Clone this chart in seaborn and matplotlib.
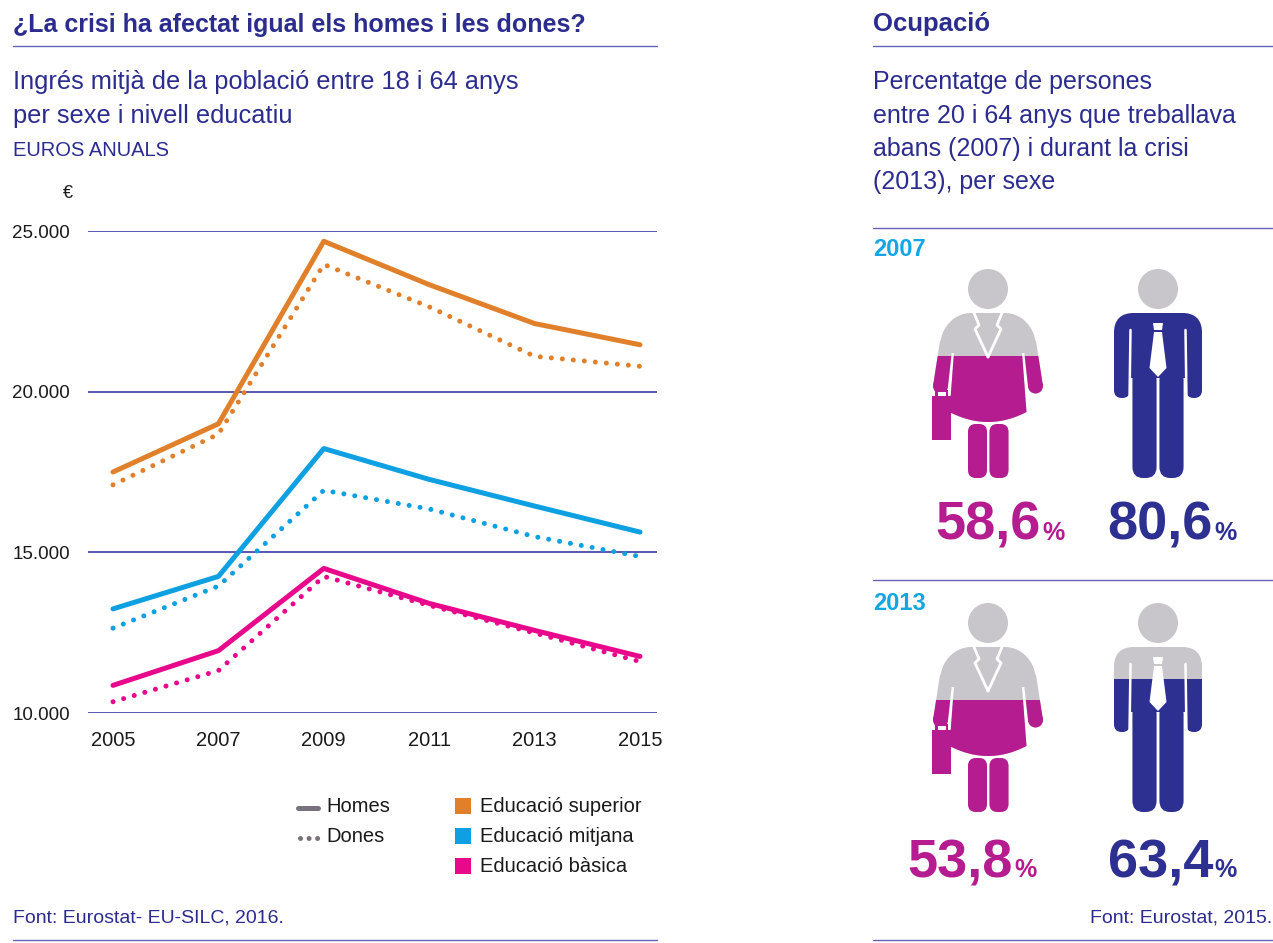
import numpy as np
import pandas as pd
import matplotlib
matplotlib.use("Agg")
import matplotlib.pyplot as plt
from matplotlib.lines import Line2D
from matplotlib.patches import Circle, FancyBboxPatch, Polygon, Rectangle
import seaborn as sns

# Dades del gràfic d'ingressos (euros anuals)
anys = [2005, 2007, 2009, 2011, 2013, 2015]
nivells = ["Educació superior", "Educació mitjana", "Educació bàsica"]
sexes = ["Homes", "Dones"]

superior_homes = [17500, 19000, 24680, 23330, 22120, 21460]
superior_dones = [17100, 18680, 23960, 22640, 21100, 20790]
mitjana_homes = [13240, 14250, 18230, 17270, 16440, 15630]
mitjana_dones = [12640, 13950, 16930, 16350, 15490, 14870]
basica_homes = [10860, 11940, 14500, 13410, 12570, 11760]
basica_dones = [10350, 11320, 14250, 13350, 12490, 11600]

y_ticks = [10000, 15000, 20000, 25000]

# Dades d'ocupació (% persones 20-64 anys que treballaven)
ocupacio_anys = ["2007", "2013"]
ocupacio_dones = [58.6, 53.8]
ocupacio_homes = [80.6, 63.4]

font_esq = "Font: Eurostat- EU-SILC, 2016."
font_dre = "Font: Eurostat, 2015."

# Colors
BLAU_TEXT = "#2b2c8e"
LINIA_GRID = "#4b49a8"
COLORS = ["#e0802b", "#0ea0e0", "#e8088c"]
GRIS_LLEGENDA = "#77727a"
GRIS_ICONA = "#c8c6cb"
MAGENTA = "#b51c8f"
BLAU_HOME = "#2d2f91"
CIAN = "#13a6e2"

W, H = 1273, 943

sns.set_theme(style="white")
plt.rcParams["font.family"] = ["Liberation Sans", "DejaVu Sans"]

series = {
    ("Educació superior", "Homes"): superior_homes,
    ("Educació superior", "Dones"): superior_dones,
    ("Educació mitjana", "Homes"): mitjana_homes,
    ("Educació mitjana", "Dones"): mitjana_dones,
    ("Educació bàsica", "Homes"): basica_homes,
    ("Educació bàsica", "Dones"): basica_dones,
}
files = []
for (nivell, sexe), valors in series.items():
    for a, v in zip(anys, valors):
        files.append({"any": a, "ingres": v, "nivell": nivell, "sexe": sexe})
df = pd.DataFrame(files)

fig = plt.figure(figsize=(W / 100, H / 100), dpi=100)
fig.patch.set_facecolor("white")

# capa de maquetació en píxels (y cap avall)
lay = fig.add_axes([0, 0, 1, 1])
lay.set_xlim(0, W)
lay.set_ylim(H, 0)
lay.axis("off")

# --- gràfic de línies ---
ax = fig.add_axes([88 / W, 1 - 713 / H, 569 / W, 482 / H])
ax.set_facecolor("none")
sns.lineplot(data=df, x="any", y="ingres", hue="nivell", style="sexe",
             hue_order=nivells, style_order=sexes, palette=COLORS,
             dashes={"Homes": "", "Dones": (0.01, 2.2)},
             linewidth=3.6, legend=False, ax=ax)
for ln in ax.get_lines():
    ln.set_dash_capstyle("round")
    ln.set_clip_on(False)

k = 10 / (640 - 113)
ax.set_xlim(2005 - 25 * k, 2015 + 17 * k)
ax.set_ylim(10000, 25000)
ax.set_xticks(anys)
ax.set_xticklabels([str(a) for a in anys])
ax.set_yticks(y_ticks)
ax.set_yticklabels([f"{v:,}".replace(",", ".") for v in y_ticks])
ax.set_xlabel("")
ax.set_ylabel("")
ax.grid(axis="y", color=LINIA_GRID, linewidth=1.3)
ax.grid(axis="x", visible=False)
ax.set_axisbelow(True)
for s in ax.spines.values():
    s.set_visible(False)
ax.tick_params(axis="y", length=0, pad=13, labelsize=13.5, labelcolor="#1a1a1a")
ax.tick_params(axis="x", length=0, pad=13, labelsize=14.5, labelcolor="#1a1a1a")

# --- textos panell esquerre ---
lay.text(13, 25, "¿La crisi ha afectat igual els homes i les dones?", fontsize=18,
         fontweight="bold", color=BLAU_TEXT, va="center")
lay.text(13, 82, "Ingrés mitjà de la població entre 18 i 64 anys", fontsize=18.3,
         color=BLAU_TEXT, va="center")
lay.text(13, 116, "per sexe i nivell educatiu", fontsize=18.3, color=BLAU_TEXT, va="center")
lay.text(13, 151, "EUROS ANUALS", fontsize=14.5, color=BLAU_TEXT, va="center")
lay.text(68, 194, "€", fontsize=13, color="#1a1a1a", va="center", ha="center")
lay.text(13, 918, font_esq, fontsize=14, color=BLAU_TEXT, va="center")

for y, x0, x1 in [(46, 13, 657), (940, 13, 657), (46, 873, 1273), (228, 873, 1273),
                  (580, 873, 1273), (940, 873, 1273)]:
    lay.plot([x0, x1], [y, y], color="#6462b8", lw=1.0)

# llegenda
lay.add_line(Line2D([298, 318], [808, 808], color=GRIS_LLEGENDA, lw=3.6,
                    solid_capstyle="round"))
lay.add_line(Line2D([300, 321], [838, 838], color=GRIS_LLEGENDA, lw=3.6,
                    dashes=(0.01, 1.7), dash_capstyle="round"))
for i, s in enumerate(sexes):
    lay.text(326, 807 + 30 * i, s, fontsize=14.5, color="#1a1a1a", va="center")
for i, (nom, col) in enumerate(zip(nivells, COLORS)):
    yc = 806 + 30 * i
    lay.add_patch(Rectangle((455, yc - 8), 16, 16, facecolor=col, edgecolor="none"))
    lay.text(480, yc, nom, fontsize=14.5, color="#1a1a1a", va="center")

# --- panell dret ---
lay.text(873, 24, "Ocupació", fontsize=18.5, fontweight="bold", color=BLAU_TEXT, va="center")
sub = ["Percentatge de persones", "entre 20 i 64 anys que treballava",
       "abans (2007) i durant la crisi", "(2013), per sexe"]
for i, t in enumerate(sub):
    lay.text(873, 82 + 33.5 * i, t, fontsize=18, color=BLAU_TEXT, va="center")
lay.text(1272, 918, font_dre, fontsize=14, color=BLAU_TEXT, va="center", ha="right")

ALT = 209  # alçada de la icona (cap a peus)


def parts_dona(cx, top):
    p = [Circle((cx, top + 20), 20)]
    # espatlles en forma de cúpula
    t = np.linspace(0, np.pi / 2, 20)
    dreta = [(cx + 17 + 31 * np.sin(a), top + 44 + 34 * (1 - np.cos(a))) for a in t]
    esq = [(cx - 17 - 31 * np.sin(a), top + 44 + 34 * (1 - np.cos(a))) for a in t[::-1]]
    p.append(Polygon(esq + dreta + [(cx + 48, top + 84), (cx - 48, top + 84)], closed=True))
    # braços lleugerament oberts
    for s in (-1, 1):
        p.append(Polygon([(cx + s * 48, top + 72), (cx + s * 35, top + 72),
                          (cx + s * 40, top + 117), (cx + s * 55, top + 117)], closed=True))
        p.append(Circle((cx + s * 47.5, top + 117), 7.5))
    # vestit
    xs = np.linspace(38.5, -38.5, 25)
    hem = [(cx + x, top + 143 + 10 * (1 - (x / 38.5) ** 2)) for x in xs]
    p.append(Polygon([(cx - 33, top + 70), (cx + 33, top + 70)] + hem, closed=True))
    # cames
    p.append(FancyBboxPatch((cx - 20, top + 155), 19, 54,
                            boxstyle="round,pad=0,rounding_size=8"))
    p.append(FancyBboxPatch((cx + 1.5, top + 155), 19, 54,
                            boxstyle="round,pad=0,rounding_size=8"))
    # cartera
    p.append(Rectangle((cx - 53, top + 121), 13, 7))
    p.append(Rectangle((cx - 56, top + 127), 19, 44))
    return p


def detalls_dona(ax, cx, top):
    for s in (-1, 1):
        ax.add_line(Line2D([cx + s * 14, cx + s * 9, cx + s * 13, cx],
                           [top + 44, top + 56, top + 60, top + 88],
                           color="white", lw=2))
    ax.add_patch(Rectangle((cx - 50.5, top + 123), 8, 4, facecolor="white",
                           edgecolor="none"))


def parts_home(cx, top):
    p = [Circle((cx, top + 20), 20)]
    p.append(FancyBboxPatch((cx - 44, top + 44), 88, 56,
                            boxstyle="round,pad=0,rounding_size=20"))
    p.append(FancyBboxPatch((cx - 44, top + 60), 16, 69,
                            boxstyle="round,pad=0,rounding_size=8"))
    p.append(FancyBboxPatch((cx + 28, top + 60), 16, 69,
                            boxstyle="round,pad=0,rounding_size=8"))
    p.append(Rectangle((cx - 27, top + 44), 54, 65))
    p.append(FancyBboxPatch((cx - 25.5, top + 100), 24, 109,
                            boxstyle="round,pad=0,rounding_size=11"))
    p.append(FancyBboxPatch((cx + 1.5, top + 100), 24, 109,
                            boxstyle="round,pad=0,rounding_size=11"))
    return p


def detalls_home(ax, cx, top):
    for s in (-1, 1):
        ax.add_line(Line2D([cx + s * 27.5, cx + s * 28.5], [top + 61, top + 131],
                           color="white", lw=1.8))
    ax.add_patch(Polygon([(cx - 5, top + 54), (cx + 5, top + 54),
                          (cx + 4, top + 61), (cx - 4, top + 61)],
                         facecolor="white", edgecolor="none"))
    ax.add_patch(Polygon([(cx - 4, top + 63), (cx + 4, top + 63), (cx + 8.5, top + 99),
                          (cx, top + 108), (cx - 8.5, top + 99)],
                         facecolor="white", edgecolor="none"))


def figura(ax, parts_fn, detalls_fn, cx, top, pct, color):
    nivell = top + ALT * (1 - pct / 100)
    for p in parts_fn(cx, top):
        p.set_facecolor(GRIS_ICONA)
        p.set_edgecolor("none")
        ax.add_patch(p)
    clip = Rectangle((cx - 80, nivell), 160, top + ALT + 10 - nivell,
                     transform=ax.transData)
    for p in parts_fn(cx, top):
        p.set_facecolor(color)
        p.set_edgecolor("none")
        ax.add_patch(p)
        p.set_clip_path(clip)
    detalls_fn(ax, cx, top)


def percent(ax, x_fi, y, v, color):
    ax.text(x_fi, y, f"{v:.1f}".replace(".", ","), fontsize=39, fontweight="bold",
            color=color, ha="right", va="baseline")
    ax.text(x_fi + 1.5, y, "%", fontsize=18, fontweight="bold",
            color=color, ha="left", va="baseline")


tops = [269, 603]
y_any = [250, 603]
y_pct = [540, 877]
x_dona_pct = [1041, 1013]
for i, a in enumerate(ocupacio_anys):
    lay.text(873, y_any[i], a, fontsize=17, fontweight="bold", color=CIAN, va="center")
    figura(lay, parts_dona, detalls_dona, 988, tops[i], ocupacio_dones[i], MAGENTA)
    figura(lay, parts_home, detalls_home, 1158, tops[i], ocupacio_homes[i], BLAU_HOME)
    percent(lay, x_dona_pct[i], y_pct[i], ocupacio_dones[i], MAGENTA)
    percent(lay, 1213, y_pct[i], ocupacio_homes[i], BLAU_HOME)

fig.savefig("out.png", dpi=100, facecolor="white")
